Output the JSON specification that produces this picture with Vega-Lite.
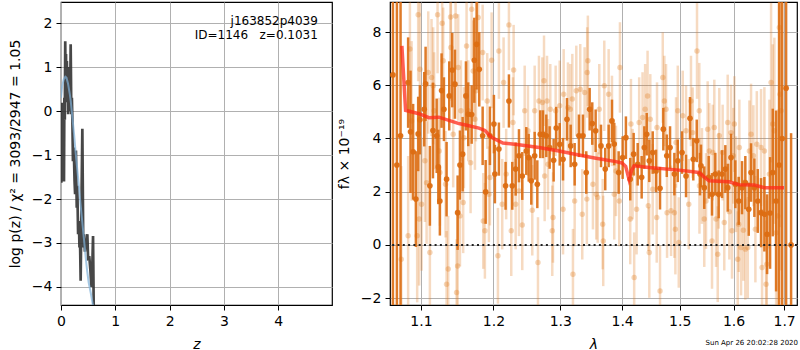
{
  "$schema": "https://vega.github.io/schema/vega-lite/v6.json",
  "padding": {"left": 7, "top": 1, "right": 0, "bottom": 0},
  "background": "white",
  "bounds": "flush",
  "spacing": 58,
  "config": {
    "font": "DejaVu Sans",
    "view": {"stroke": "#000", "strokeWidth": 1.2},
    "axis": {"domain": false, "grid": true, "gridColor": "#b0b0b0", "gridWidth": 1, "tickColor": "#000", "tickSize": 5, "tickWidth": 1, "labelColor": "#000", "labelFontSize": 14, "labelPadding": 4, "titleFontSize": 14, "titleFontWeight": "normal", "titleColor": "#000", "titlePadding": 9, "labelFlush": false, "labelOverlap": false}
  },
  "datasets": {
    "prior": [
      {"z":0,"lp":0.3},{"z":0.02,"lp":0.55},{"z":0.05,"lp":0.72},{"z":0.08,"lp":0.78},{"z":0.1,"lp":0.76},{"z":0.13,"lp":0.62},{"z":0.16,"lp":0.4},{"z":0.18,"lp":0.22},{"z":0.21,"lp":-0.15},{"z":0.24,"lp":-0.52},{"z":0.27,"lp":-0.95},{"z":0.3,"lp":-1.33},{"z":0.33,"lp":-1.72},{"z":0.36,"lp":-2.12},{"z":0.39,"lp":-2.5},{"z":0.42,"lp":-2.88},{"z":0.45,"lp":-3.27},{"z":0.48,"lp":-3.62},{"z":0.51,"lp":-3.9},{"z":0.55,"lp":-4.15},{"z":0.59,"lp":-4.43},{"z":0.62,"lp":-4.6}
    ],
    "pz": [
      {"z":0.0,"lp":0.1},{"z":0.006,"lp":-1.63},{"z":0.012,"lp":0.19},{"z":0.02,"lp":-1.4},{"z":0.028,"lp":-0.3},{"z":0.036,"lp":-1.5},{"z":0.045,"lp":-0.5},{"z":0.055,"lp":-1.6},{"z":0.062,"lp":0.3},{"z":0.07,"lp":-0.2},{"z":0.078,"lp":1.59},{"z":0.085,"lp":0.3},{"z":0.092,"lp":1.3},{"z":0.1,"lp":0.2},{"z":0.108,"lp":1.14},{"z":0.116,"lp":0.3},{"z":0.124,"lp":1.0},{"z":0.132,"lp":-0.07},{"z":0.14,"lp":0.6},{"z":0.15,"lp":0.0},{"z":0.16,"lp":0.9},{"z":0.17,"lp":0.5},{"z":0.178,"lp":1.52},{"z":0.19,"lp":-0.07},{"z":0.2,"lp":0.3},{"z":0.21,"lp":-0.22},{"z":0.22,"lp":-1.14},{"z":0.235,"lp":-0.83},{"z":0.25,"lp":-1.6},{"z":0.26,"lp":-1.89},{"z":0.275,"lp":-0.9},{"z":0.29,"lp":-2.2},{"z":0.3,"lp":-1.7},{"z":0.315,"lp":-2.8},{"z":0.33,"lp":-2.5},{"z":0.34,"lp":-3.1},{"z":0.35,"lp":-2.9},{"z":0.362,"lp":-3.86},{"z":0.378,"lp":-2.0},{"z":0.393,"lp":-0.4},{"z":0.41,"lp":-3.1},{"z":0.425,"lp":-2.8},{"z":0.44,"lp":-3.2},{"z":0.455,"lp":-2.9},{"z":0.47,"lp":-3.1},{"z":0.485,"lp":-2.8},{"z":0.5,"lp":-3.4},{"z":0.52,"lp":-3.3},{"z":0.54,"lp":-3.6},{"z":0.56,"lp":-4.0},{"z":0.575,"lp":-3.6},{"z":0.59,"lp":-2.84},{"z":0.605,"lp":-4.8}
    ],
    "lab": [
      {"z":4.73,"lp":2.05,"t":"j163852p4039"},
      {"z":4.73,"lp":1.74,"t":"ID=1146\u00a0\u00a0\u00a0z=0.1031"}
    ],
    "zero": [{"f": 0}],
    "model": [
      {"w":1.0752,"f":7.48},{"w":1.08,"f":5.06},{"w":1.0974,"f":4.93},{"w":1.1106,"f":4.78},{"w":1.124,"f":4.8},{"w":1.1513,"f":4.56},{"w":1.1652,"f":4.48},{"w":1.1792,"f":4.39},{"w":1.1877,"f":4.3},{"w":1.1977,"f":4.03},{"w":1.2136,"f":3.83},{"w":1.2372,"f":3.76},{"w":1.2672,"f":3.66},{"w":1.298,"f":3.53},{"w":1.3294,"f":3.38},{"w":1.3568,"f":3.26},{"w":1.3897,"f":3.13},{"w":1.3998,"f":3.08},{"w":1.406,"f":2.95},{"w":1.4116,"f":2.47},{"w":1.416,"f":2.8},{"w":1.4201,"f":2.97},{"w":1.4459,"f":2.91},{"w":1.4989,"f":2.81},{"w":1.5351,"f":2.72},{"w":1.545,"f":2.55},{"w":1.5537,"f":2.41},{"w":1.5914,"f":2.37},{"w":1.6108,"f":2.26},{"w":1.6401,"f":2.25},{"w":1.66,"f":2.15},{"w":1.6999,"f":2.15}
    ],
    "dark": [
      {"w":1.0637,"f":6.39,"e":12},{"w":1.0688,"f":3.0,"e":12},{"w":1.0735,"f":4.1,"e":12},{"w":1.0833,"f":6.1,"e":1.7},{"w":1.0864,"f":4.25,"e":2.3},{"w":1.0898,"f":3.5,"e":1.8},{"w":1.0934,"f":1.72,"e":1.8},{"w":1.0964,"f":4.17,"e":1.4},{"w":1.0987,"f":4.7,"e":1.3},{"w":1.1044,"f":5.1,"e":1.4},{"w":1.1062,"f":6.05,"e":1.4},{"w":1.1119,"f":2.22,"e":1.5},{"w":1.116,"f":4.3,"e":1.8},{"w":1.121,"f":4.1,"e":1.4},{"w":1.1232,"f":2.93,"e":1.4},{"w":1.1253,"f":1.65,"e":1.3},{"w":1.1276,"f":5.8,"e":1.4},{"w":1.1308,"f":5.1,"e":1.2},{"w":1.1344,"f":2.47,"e":1.4},{"w":1.138,"f":5.6,"e":1.3},{"w":1.1421,"f":6.57,"e":1.4},{"w":1.1458,"f":6.04,"e":1.3},{"w":1.1495,"f":1.21,"e":1.4},{"w":1.1527,"f":3.0,"e":1.3},{"w":1.1564,"f":3.41,"e":1.4},{"w":1.161,"f":5.6,"e":1.3},{"w":1.1642,"f":4.91,"e":1.2},{"w":1.169,"f":4.9,"e":1.1},{"w":1.1727,"f":6.94,"e":1.6},{"w":1.176,"f":7.54,"e":1.7},{"w":1.1797,"f":6.6,"e":1.4},{"w":1.1845,"f":4.1,"e":1.1},{"w":1.1888,"f":1.99,"e":1.2},{"w":1.1949,"f":4.1,"e":1.1},{"w":1.2006,"f":4.54,"e":1.1},{"w":1.202,"f":2.66,"e":1.1},
      {"w":1.2078,"f":3.6,"e":1.0},{"w":1.2175,"f":2.22,"e":0.9},{"w":1.2224,"f":5.41,"e":1.0},{"w":1.2273,"f":2.22,"e":0.9},{"w":1.2323,"f":2.85,"e":1.0},{"w":1.2372,"f":3.35,"e":1.0},{"w":1.2421,"f":2.59,"e":0.9},{"w":1.2481,"f":3.53,"e":0.9},{"w":1.2517,"f":3.28,"e":0.9},{"w":1.2556,"f":2.41,"e":0.9},{"w":1.2607,"f":3.35,"e":0.9},{"w":1.2647,"f":2.28,"e":0.9},{"w":1.2692,"f":4.16,"e":0.9},{"w":1.2733,"f":4.16,"e":0.9},{"w":1.2784,"f":4.1,"e":0.8},{"w":1.2835,"f":3.66,"e":0.8},{"w":1.2897,"f":3.18,"e":0.8},{"w":1.2937,"f":4.39,"e":0.8},{"w":1.2991,"f":3.78,"e":0.8},{"w":1.3043,"f":3.22,"e":0.8},{"w":1.3105,"f":4.72,"e":0.8},{"w":1.3163,"f":3.72,"e":0.8},{"w":1.3226,"f":3.03,"e":0.8},{"w":1.3294,"f":4.1,"e":0.8},{"w":1.3358,"f":4.1,"e":0.8},{"w":1.3411,"f":2.72,"e":0.8},{"w":1.3466,"f":5.1,"e":0.8},{"w":1.3508,"f":4.56,"e":0.8},{"w":1.3563,"f":4.29,"e":0.8},
      {"w":1.365,"f":3.72,"e":0.8},{"w":1.372,"f":2.85,"e":0.8},{"w":1.3776,"f":3.72,"e":0.8},{"w":1.3831,"f":4.66,"e":0.8},{"w":1.3869,"f":3.79,"e":0.8},{"w":1.3942,"f":2.72,"e":0.8},{"w":1.4009,"f":3.28,"e":0.8},{"w":1.4064,"f":4.03,"e":0.8},{"w":1.4137,"f":2.47,"e":0.8},{"w":1.4195,"f":3.41,"e":0.8},{"w":1.4264,"f":3.03,"e":0.8},{"w":1.4332,"f":2.54,"e":0.8},{"w":1.4378,"f":3.66,"e":0.8},{"w":1.4419,"f":4.16,"e":0.8},{"w":1.4464,"f":3.16,"e":0.8},{"w":1.4523,"f":3.47,"e":0.8},{"w":1.4581,"f":2.78,"e":0.8},{"w":1.4651,"f":2.13,"e":0.8},{"w":1.4709,"f":4.35,"e":0.8},{"w":1.477,"f":3.35,"e":0.8},{"w":1.4828,"f":3.66,"e":0.8},{"w":1.4905,"f":2.66,"e":0.8},{"w":1.4966,"f":3.16,"e":0.8},{"w":1.5043,"f":3.47,"e":0.8},{"w":1.5115,"f":2.59,"e":0.8},{"w":1.5187,"f":4.76,"e":0.8},{"w":1.5247,"f":3.22,"e":0.8},{"w":1.531,"f":3.91,"e":0.8},{"w":1.537,"f":2.66,"e":0.8},
      {"w":1.5388,"f":2.97,"e":0.8},{"w":1.5449,"f":2.15,"e":0.8},{"w":1.5531,"f":2.54,"e":0.8},{"w":1.5593,"f":1.9,"e":0.8},{"w":1.5655,"f":2.66,"e":0.8},{"w":1.5718,"f":1.9,"e":0.9},{"w":1.5781,"f":2.66,"e":0.9},{"w":1.5844,"f":2.85,"e":0.9},{"w":1.5889,"f":2.15,"e":0.9},{"w":1.5952,"f":3.28,"e":0.9},{"w":1.6035,"f":2.28,"e":0.9},{"w":1.61,"f":1.65,"e":0.9},{"w":1.6164,"f":2.15,"e":1.0},{"w":1.6228,"f":2.34,"e":1.0},{"w":1.6295,"f":1.34,"e":1.0},{"w":1.634,"f":2.72,"e":1.1},{"w":1.6405,"f":2.15,"e":1.1},{"w":1.6472,"f":1.65,"e":1.2},{"w":1.6537,"f":1.21,"e":1.3},{"w":1.6603,"f":1.15,"e":1.4},{"w":1.6657,"f":0.4,"e":1.5},{"w":1.6717,"f":1.2,"e":2.1},{"w":1.6771,"f":2.72,"e":2.4},{"w":1.6838,"f":1.65,"e":3.4},{"w":1.6898,"f":3.0,"e":12},{"w":1.696,"f":4.0,"e":12},{"w":1.7041,"f":5.89,"e":12},{"w":1.7143,"f":0.0,"e":4.2}
    ],
    "light": [
      {"w":1.0744,"f":-0.54,"e":3.5},{"w":1.0833,"f":0.34,"e":3},{"w":1.0856,"f":7.36,"e":3},{"w":1.0878,"f":4.66,"e":3},{"w":1.0951,"f":0.34,"e":2.5},{"w":1.0964,"f":8.65,"e":2.5},{"w":1.0977,"f":0.97,"e":2.5},{"w":1.0987,"f":6.6,"e":2.5},{"w":1.1009,"f":1.53,"e":2.5},{"w":1.1053,"f":3.16,"e":2.3},{"w":1.1075,"f":2.34,"e":2.3},{"w":1.1097,"f":6.48,"e":2.3},{"w":1.1119,"f":-0.29,"e":2.3},{"w":1.1141,"f":6.29,"e":2.2},{"w":1.1163,"f":5.98,"e":2.2},{"w":1.1176,"f":5.04,"e":2.2},{"w":1.1222,"f":8.65,"e":2.2},{"w":1.1243,"f":3.53,"e":2.0},{"w":1.1253,"f":2.72,"e":2.0},{"w":1.1284,"f":8.33,"e":2.0},{"w":1.1298,"f":6.92,"e":2.0},{"w":1.133,"f":2.28,"e":2.0},{"w":1.1366,"f":-0.91,"e":2.0},{"w":1.1344,"f":-1.48,"e":2.0},{"w":1.1398,"f":8.57,"e":2.0},{"w":1.1402,"f":7.42,"e":2.0},{"w":1.1434,"f":4.16,"e":2.0},{"w":1.1467,"f":8.6,"e":2.0},{"w":1.1481,"f":-1.79,"e":2.0},{"w":1.1495,"f":-0.79,"e":2.0},{"w":1.1503,"f":6.67,"e":2.0},{"w":1.1527,"f":1.09,"e":1.9},{"w":1.1541,"f":5.04,"e":1.9},{"w":1.1572,"f":1.59,"e":1.9},{"w":1.1582,"f":4.03,"e":1.9},{"w":1.1619,"f":7.48,"e":1.9},{"w":1.1642,"f":5.04,"e":1.9},{"w":1.1675,"f":3.09,"e":1.9},{"w":1.169,"f":8.86,"e":1.9},{"w":1.1712,"f":6.54,"e":1.9},{"w":1.1736,"f":4.72,"e":1.9},{"w":1.175,"f":5.79,"e":1.9},{"w":1.1782,"f":8.55,"e":1.9},{"w":1.1845,"f":7.23,"e":1.8},{"w":1.1854,"f":0.9,"e":1.8},{"w":1.1877,"f":0.53,"e":1.8},{"w":1.191,"f":5.41,"e":1.8},{"w":1.1934,"f":1.9,"e":1.8},{"w":1.1949,"f":2.53,"e":1.8},{"w":1.1973,"f":6.94,"e":1.8},
      {"w":1.2064,"f":-0.41,"e":1.8},{"w":1.2078,"f":7.29,"e":1.8},{"w":1.2126,"f":1.53,"e":1.7},{"w":1.2146,"f":6.1,"e":1.7},{"w":1.2184,"f":2.66,"e":1.7},{"w":1.2224,"f":8.27,"e":1.7},{"w":1.2258,"f":0.53,"e":1.7},{"w":1.2293,"f":6.57,"e":1.7},{"w":1.2283,"f":4.6,"e":1.7},{"w":1.2323,"f":1.53,"e":1.7},{"w":1.2372,"f":2.03,"e":1.7},{"w":1.2421,"f":0.75,"e":1.7},{"w":1.2457,"f":5.04,"e":1.7},{"w":1.2506,"f":4.29,"e":1.7},{"w":1.2571,"f":1.3,"e":1.7},{"w":1.2607,"f":5.04,"e":1.7},{"w":1.2657,"f":-0.66,"e":1.7},{"w":1.2672,"f":5.41,"e":1.7},{"w":1.2723,"f":5.35,"e":1.7},{"w":1.2749,"f":6.17,"e":1.7},{"w":1.2759,"f":2.59,"e":1.7},{"w":1.2795,"f":5.41,"e":1.7},{"w":1.281,"f":3.03,"e":1.7},{"w":1.2845,"f":5.1,"e":1.7},{"w":1.2876,"f":0.53,"e":1.7},{"w":1.2887,"f":1.03,"e":1.7},{"w":1.2928,"f":5.04,"e":1.7},{"w":1.2991,"f":5.23,"e":1.7},{"w":1.3043,"f":1.34,"e":1.7},{"w":1.3053,"f":5.66,"e":1.7},{"w":1.312,"f":5.16,"e":1.7},{"w":1.3157,"f":5.1,"e":1.7},{"w":1.3189,"f":5.48,"e":1.7},{"w":1.3199,"f":-1.1,"e":1.7},{"w":1.3226,"f":1.65,"e":1.7},{"w":1.3252,"f":5.79,"e":1.7},{"w":1.3315,"f":5.85,"e":1.7},{"w":1.3347,"f":1.15,"e":1.7},{"w":1.3385,"f":5.73,"e":1.7},{"w":1.3421,"f":1.72,"e":1.7},{"w":1.3437,"f":6.92,"e":1.7},{"w":1.3426,"f":6.48,"e":1.7},{"w":1.3519,"f":2.28,"e":1.7},{"w":1.3573,"f":1.9,"e":1.7},
      {"w":1.3596,"f":1.78,"e":1.7},{"w":1.3622,"f":5.1,"e":1.7},{"w":1.3678,"f":0.78,"e":1.7},{"w":1.3687,"f":0.15,"e":1.7},{"w":1.3704,"f":5.98,"e":1.7},{"w":1.3776,"f":5.66,"e":1.7},{"w":1.3831,"f":4.66,"e":1.7},{"w":1.3869,"f":1.9,"e":1.7},{"w":1.3897,"f":2.78,"e":1.7},{"w":1.3952,"f":1.65,"e":1.7},{"w":1.3964,"f":6.67,"e":1.7},{"w":1.4149,"f":4.54,"e":1.7},{"w":1.4137,"f":0.97,"e":1.7},{"w":1.4177,"f":2.66,"e":1.7},{"w":1.4204,"f":-1.23,"e":1.7},{"w":1.4245,"f":1.34,"e":1.7},{"w":1.4289,"f":4.6,"e":1.7},{"w":1.4347,"f":4.79,"e":1.7},{"w":1.4392,"f":5.1,"e":1.7},{"w":1.4434,"f":5.6,"e":1.7},{"w":1.4464,"f":-0.29,"e":1.7},{"w":1.4447,"f":1.47,"e":1.7},{"w":1.4481,"f":4.72,"e":1.7},{"w":1.4523,"f":2.09,"e":1.7},{"w":1.4593,"f":1.03,"e":1.7},{"w":1.4598,"f":4.41,"e":1.7},{"w":1.4651,"f":-1.73,"e":1.7},{"w":1.4699,"f":6.29,"e":1.7},{"w":1.4727,"f":5.41,"e":1.7},{"w":1.4757,"f":5.1,"e":1.7},{"w":1.4775,"f":1.21,"e":1.7},{"w":1.4846,"f":1.28,"e":1.7},{"w":1.4905,"f":1.21,"e":1.7},{"w":1.4923,"f":0.59,"e":1.7},{"w":1.4935,"f":3.85,"e":1.7},{"w":1.4966,"f":5.04,"e":1.7},{"w":1.4984,"f":0.09,"e":1.7},{"w":1.5055,"f":4.85,"e":1.7},{"w":1.5115,"f":4.29,"e":1.7},{"w":1.5164,"f":1.53,"e":1.7},{"w":1.5205,"f":5.41,"e":1.7},{"w":1.5236,"f":4.22,"e":1.7},{"w":1.5315,"f":7.29,"e":1.8},{"w":1.5357,"f":5.04,"e":1.8},
      {"w":1.536,"f":2.22,"e":1.8},{"w":1.5406,"f":2.59,"e":1.8},{"w":1.5449,"f":0.97,"e":1.8},{"w":1.5481,"f":1.65,"e":1.8},{"w":1.5512,"f":4.35,"e":1.8},{"w":1.5543,"f":3.53,"e":1.8},{"w":1.5593,"f":0.15,"e":1.8},{"w":1.5606,"f":3.47,"e":1.8},{"w":1.5636,"f":4.41,"e":1.8},{"w":1.5668,"f":0.97,"e":1.8},{"w":1.57,"f":-0.35,"e":1.8},{"w":1.573,"f":4.1,"e":1.8},{"w":1.5718,"f":2.41,"e":1.8},{"w":1.5793,"f":3.47,"e":1.8},{"w":1.5824,"f":0.84,"e":1.8},{"w":1.5889,"f":4.6,"e":1.8},{"w":1.592,"f":1.25,"e":1.8},{"w":1.5952,"f":4.22,"e":1.8},{"w":1.5971,"f":0.53,"e":1.8},{"w":1.5996,"f":3.35,"e":1.8},{"w":1.6016,"f":4.54,"e":1.8},{"w":1.6048,"f":2.28,"e":1.8},{"w":1.6081,"f":-0.54,"e":1.8},{"w":1.61,"f":0.78,"e":1.8},{"w":1.6112,"f":3.66,"e":1.8},{"w":1.6145,"f":-0.1,"e":1.8},{"w":1.619,"f":0.55,"e":1.9},{"w":1.6228,"f":-0.16,"e":1.9},{"w":1.6276,"f":-0.1,"e":1.9},{"w":1.6307,"f":3.53,"e":1.9},{"w":1.634,"f":4.16,"e":1.9},{"w":1.6386,"f":3.35,"e":1.9},{"w":1.6425,"f":0.59,"e":2.0},{"w":1.6453,"f":3.78,"e":2.0},{"w":1.6537,"f":3.66,"e":2.2},{"w":1.6557,"f":-0.85,"e":2.2},{"w":1.6603,"f":3.53,"e":2.4},{"w":1.6637,"f":-1.48,"e":2.4},{"w":1.6651,"f":-0.73,"e":2.4},{"w":1.6703,"f":2.66,"e":2.8},{"w":1.6737,"f":6.1,"e":3.0},{"w":1.6771,"f":4.54,"e":3.0},{"w":1.6803,"f":4.29,"e":3.5},{"w":1.6838,"f":0.46,"e":3.5},{"w":1.6872,"f":1.09,"e":4},{"w":1.6918,"f":5.66,"e":5},{"w":1.6904,"f":8.17,"e":5},{"w":1.6939,"f":5.04,"e":6}
    ]
  },
  "hconcat": [
    {
      "width": 271,
      "height": 303,
      "layer": [
        {
          "data": {"name": "pz"},
          "mark": {"type": "line", "color": "#333333", "strokeWidth": 2.7, "opacity": 0.9, "clip": true},
          "encoding": {
            "x": {"field": "z", "type": "quantitative", "title": "z", "scale": {"domain": [0, 4.99], "nice": false, "zero": false}, "axis": {"values": [0, 1, 2, 3, 4], "format": "d", "titleFontStyle": "italic"}},
            "y": {"field": "lp", "type": "quantitative", "title": "log p(z) / χ² = 3093/2947 = 1.05", "scale": {"domain": [-4.41, 2.48], "nice": false, "zero": false}, "axis": {"values": [-4, -3, -2, -1, 0, 1, 2], "format": "d"}}
          }
        },
        {
          "data": {"name": "prior"},
          "mark": {"type": "line", "color": "#7fb0d8", "strokeWidth": 2, "opacity": 0.7, "clip": true},
          "encoding": {
            "x": {"field": "z", "type": "quantitative", "title": "z"},
            "y": {"field": "lp", "type": "quantitative", "title": "log p(z) / χ² = 3093/2947 = 1.05"}
          }
        },
        {
          "data": {"name": "lab"},
          "mark": {"type": "text", "align": "right", "baseline": "middle", "fontSize": 12, "color": "#000"},
          "encoding": {
            "x": {"field": "z", "type": "quantitative", "title": "z"},
            "y": {"field": "lp", "type": "quantitative", "title": "log p(z) / χ² = 3093/2947 = 1.05"},
            "text": {"field": "t"}
          }
        }
      ]
    },
    {
      "width": 407,
      "height": 303,
      "title": {"text": "Sun Apr 26 20:02:28 2020", "orient": "bottom", "anchor": "end", "fontSize": 7, "fontWeight": "normal", "color": "#000", "offset": -12},
      "layer": [
        {
          "data": {"name": "light"},
          "mark": {"type": "errorbar", "ticks": false, "thickness": 2.5, "color": "#e07b20", "opacity": 0.28, "clip": true},
          "encoding": {
            "x": {"field": "w", "type": "quantitative", "title": "λ", "scale": {"type": "log", "domain": [1.06, 1.7265], "nice": false}, "axis": {"values": [1.1, 1.2, 1.3, 1.4, 1.5, 1.6, 1.7], "format": ".1f", "titleFontStyle": "italic"}},
            "y": {"field": "f", "type": "quantitative", "title": "fλ × 10⁻¹⁹", "scale": {"domain": [-2.26, 9.13], "nice": false, "zero": false}, "axis": {"values": [-2, 0, 2, 4, 6, 8], "format": "d"}},
            "yError": {"field": "e"}
          }
        },
        {
          "data": {"name": "light"},
          "mark": {"type": "point", "filled": true, "size": 30, "color": "#e07b20", "opacity": 0.32},
          "encoding": {
            "x": {"field": "w", "type": "quantitative", "title": "λ"},
            "y": {"field": "f", "type": "quantitative", "title": "fλ × 10⁻¹⁹"}
          }
        },
        {
          "data": {"name": "dark"},
          "mark": {"type": "errorbar", "ticks": false, "thickness": 2.5, "color": "#dc6d12", "opacity": 0.9, "clip": true},
          "encoding": {
            "x": {"field": "w", "type": "quantitative", "title": "λ"},
            "y": {"field": "f", "type": "quantitative", "title": "fλ × 10⁻¹⁹"},
            "yError": {"field": "e"}
          }
        },
        {
          "data": {"name": "dark"},
          "mark": {"type": "point", "filled": true, "size": 32, "color": "#dc6d12", "opacity": 0.95},
          "encoding": {
            "x": {"field": "w", "type": "quantitative", "title": "λ"},
            "y": {"field": "f", "type": "quantitative", "title": "fλ × 10⁻¹⁹"}
          }
        },
        {
          "data": {"name": "zero"},
          "mark": {"type": "rule", "color": "#222", "strokeWidth": 2, "strokeDash": [2, 3.3]},
          "encoding": {"y": {"field": "f", "type": "quantitative", "title": "fλ × 10⁻¹⁹"}}
        },
        {
          "data": {"name": "model"},
          "mark": {"type": "line", "color": "#ff2a1a", "strokeWidth": 3.5, "opacity": 0.75, "clip": true},
          "encoding": {
            "x": {"field": "w", "type": "quantitative", "title": "λ"},
            "y": {"field": "f", "type": "quantitative", "title": "fλ × 10⁻¹⁹"}
          }
        }
      ]
    }
  ]
}
